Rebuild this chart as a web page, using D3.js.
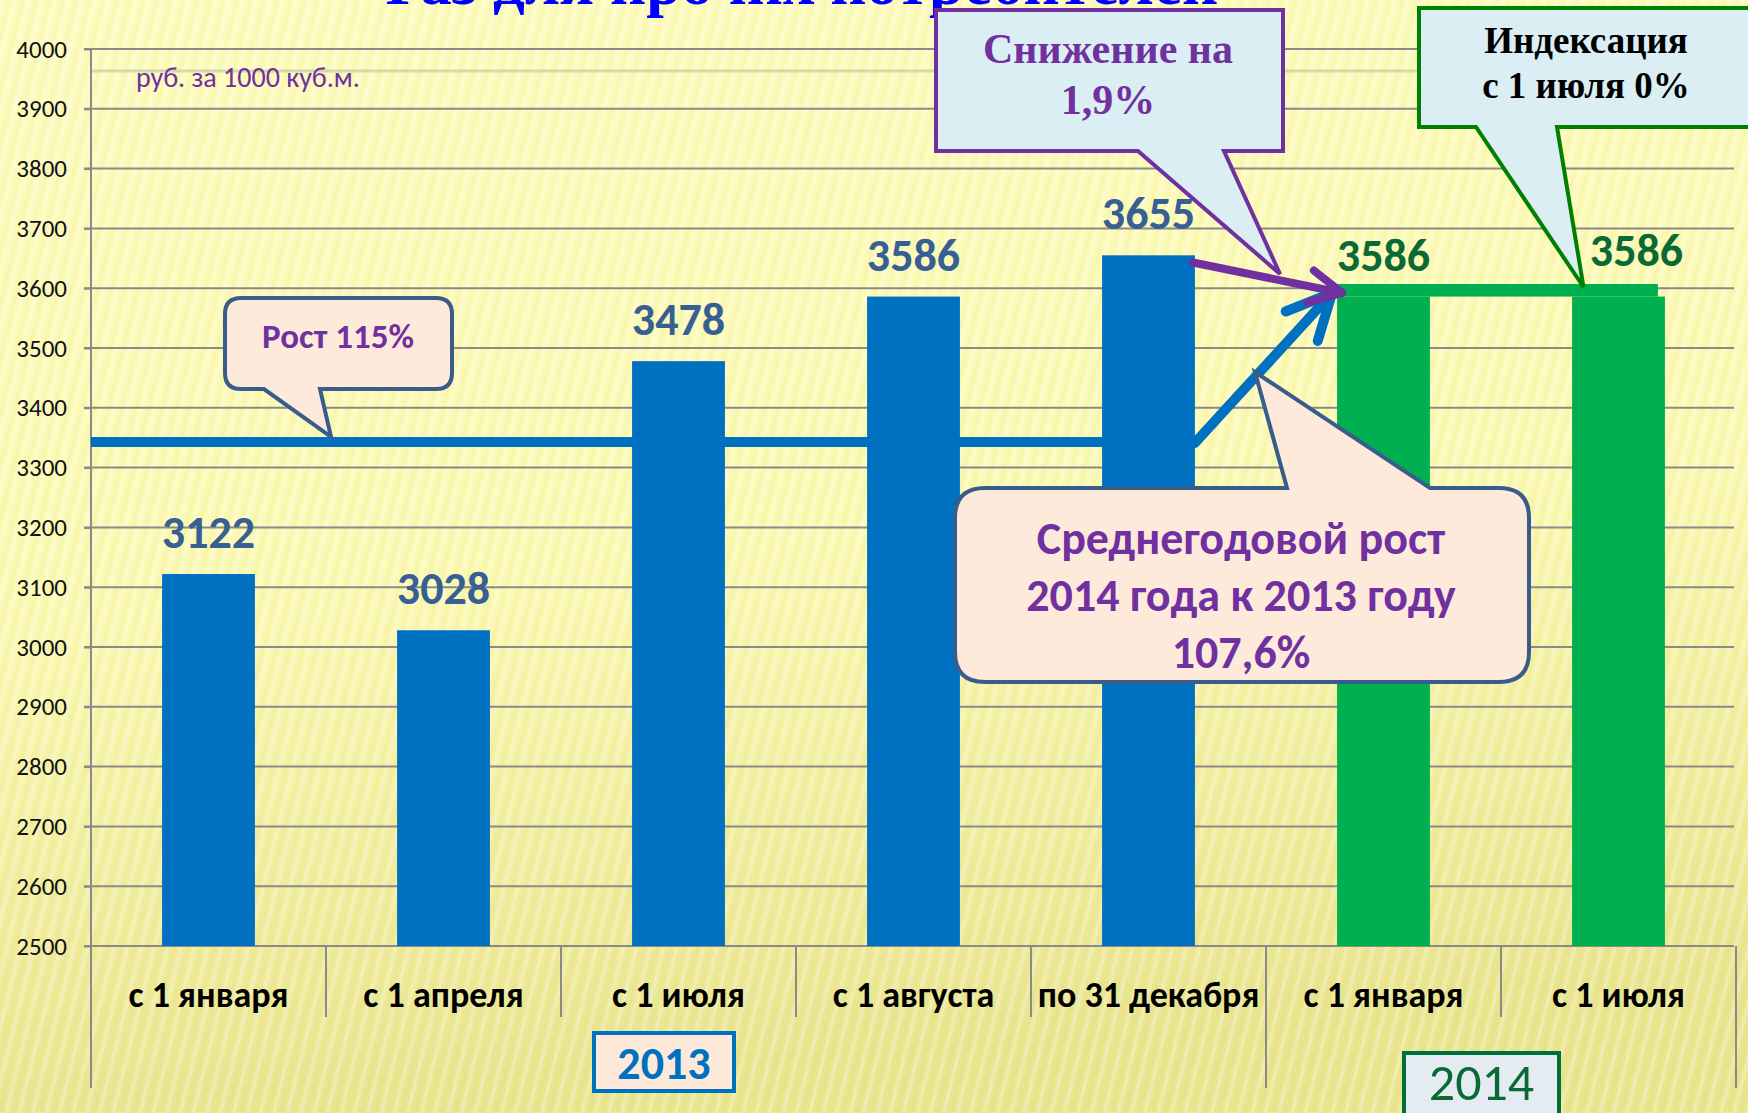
<!DOCTYPE html>
<html>
<head>
<meta charset="utf-8">
<script src="https://cdn.jsdelivr.net/npm/d3@7"></script>
<style>
  html, body { margin: 0; padding: 0; overflow: hidden; }
  body { width: 1748px; height: 1113px; }
  .sans { font-family: Carlito, Lato, "Open Sans", sans-serif; }
  .serif { font-family: "Liberation Serif", "DejaVu Serif", serif; }
</style>
</head>
<body>
<script>
// data
var categories = ["с 1 января", "с 1 апреля", "с 1 июля", "с 1 августа", "по 31 декабря", "с 1 января", "с 1 июля"];
var years = ["2013", "2013", "2013", "2013", "2013", "2014", "2014"];
var prices = [3122, 3028, 3478, 3586, 3655, 3586, 3586];
var yTicks = d3.range(2500, 4001, 100);
var avgLevel = 3343;      // "Рост 115%" level line
var unitLabel = "руб. за 1000 куб.м.";

var W = 1748, H = 1113;
var m = {left: 91, right: 12, top: 49, bottom: 167};

var svg = d3.select("body").append("svg")
    .attr("width", W)
    .attr("height", H);

var defs = svg.append("defs");

// background: pale yellow with streaks
var grad = defs.append("linearGradient").attr("id", "bg")
    .attr("x1", 0).attr("y1", 0).attr("x2", 0.15).attr("y2", 1);
grad.append("stop").attr("offset", "0%").attr("stop-color", "#fdfbbc");
grad.append("stop").attr("offset", "55%").attr("stop-color", "#fbf8b2");
grad.append("stop").attr("offset", "100%").attr("stop-color", "#e9e48e");

var pat = defs.append("pattern").attr("id", "streaks")
    .attr("patternUnits", "userSpaceOnUse")
    .attr("width", 13).attr("height", 40)
    .attr("patternTransform", "rotate(14)");
pat.append("rect").attr("x", 0).attr("y", 0).attr("width", 4).attr("height", 40)
    .attr("fill", "#ffffff").attr("opacity", 0.25);
pat.append("rect").attr("x", 8).attr("y", 0).attr("width", 2).attr("height", 40)
    .attr("fill", "#d8d27a").attr("opacity", 0.15);

svg.append("rect").attr("width", W).attr("height", H).attr("fill", "url(#bg)");
svg.append("rect").attr("width", W).attr("height", H).attr("fill", "url(#streaks)");

// scales
var y = d3.scaleLinear()
    .domain([2500, 4000])
    .range([946, m.top]);

var x = d3.scaleBand()
    .domain(d3.range(categories.length))
    .range([m.left, W - m.right])
    .padding(0);

var barW = x.bandwidth() * 0.395;
var cx = i => x(i) + x.bandwidth() / 2;

// title (cut off at top of slide)
svg.append("text")
    .attr("class", "serif")
    .attr("x", 802)
    .attr("y", 4)
    .attr("text-anchor", "middle")
    .style("font-size", "63px")
    .style("font-weight", "bold")
    .style("fill", "#0000ff")
    .text("Газ для прочих потребителей");

// faint slide line
svg.append("line")
    .attr("x1", m.left).attr("x2", W)
    .attr("y1", 71).attr("y2", 71)
    .attr("stroke", "#b9c79a").attr("stroke-width", 3).attr("opacity", 0.6);

// gridlines
svg.append("g")
    .selectAll("line")
    .data(yTicks)
    .join("line")
    .attr("x1", m.left - 7)
    .attr("x2", W - m.right - 2)
    .attr("y1", d => y(d))
    .attr("y2", d => y(d))
    .attr("stroke", "#8a8a8a")
    .attr("stroke-width", 2);

// y axis
var yAxis = svg.append("g")
    .attr("transform", "translate(" + m.left + ",0)")
    .call(d3.axisLeft(y).tickValues(yTicks).tickFormat(d3.format("d")).tickSize(7).tickPadding(17));
yAxis.select(".domain").remove();
yAxis.selectAll("line").attr("stroke", "#8a8a8a").attr("stroke-width", 2);
yAxis.selectAll("text")
    .attr("class", "sans")
    .style("font-size", "25px")
    .style("fill", "#111");

svg.append("line")
    .attr("x1", m.left).attr("x2", m.left)
    .attr("y1", m.top).attr("y2", 1088)
    .attr("stroke", "#8a8a8a").attr("stroke-width", 2);

// category separators below the axis
var bounds = d3.range(1, categories.length + 1);
svg.append("g")
    .selectAll("line")
    .data(bounds)
    .join("line")
    .attr("x1", i => i < categories.length ? x(i) : W - m.right)
    .attr("x2", i => i < categories.length ? x(i) : W - m.right)
    .attr("y1", y(2500))
    .attr("y2", i => (i == categories.length || years[i] != years[i - 1]) ? 1088 : 1017)
    .attr("stroke", "#8a8a8a")
    .attr("stroke-width", 2);

// unit label
svg.append("text")
    .attr("class", "sans")
    .attr("x", 136)
    .attr("y", 87)
    .style("font-size", "28px")
    .style("fill", "#7030a0")
    .text(unitLabel);

// average level line (behind bars)
var lastBlue = 4, firstGreen = 5;
var lineEndX = cx(lastBlue) + barW / 2;
var tipB = [cx(firstGreen) - barW / 2 - 5, y(3592)];

svg.append("line")
    .attr("x1", m.left).attr("x2", lineEndX)
    .attr("y1", y(avgLevel)).attr("y2", y(avgLevel))
    .attr("stroke", "#0070c0").attr("stroke-width", 10);

// bars
svg.append("g")
    .selectAll("rect")
    .data(prices)
    .join("rect")
    .attr("x", (d, i) => cx(i) - barW / 2)
    .attr("y", d => y(d))
    .attr("width", barW)
    .attr("height", d => y(2500) - y(d))
    .style("fill", (d, i) => years[i] == "2013" ? "#0070c0" : "#00b050");

// green band joining 2014 bars
svg.append("rect")
    .attr("x", cx(firstGreen) - barW / 2)
    .attr("y", y(3607))
    .attr("width", cx(6) + barW / 2 - 7 - (cx(firstGreen) - barW / 2))
    .attr("height", y(3586) - y(3607))
    .style("fill", "#00b050");

// arrows
function arrow(p0, p1, color, width, len, ang) {
    var a = Math.atan2(p0[1] - p1[1], p0[0] - p1[0]);
    var w1 = [p1[0] + len * Math.cos(a + ang), p1[1] + len * Math.sin(a + ang)];
    var w2 = [p1[0] + len * Math.cos(a - ang), p1[1] + len * Math.sin(a - ang)];
    var g = svg.append("g")
        .attr("stroke", color).attr("stroke-width", width)
        .attr("fill", "none").attr("stroke-linecap", "round").attr("stroke-linejoin", "round");
    g.append("path").attr("d", d3.line()([p0, p1]));
    g.append("path").attr("d", d3.line()([w1, p1, w2]));
}

// blue growth arrow from level line to 2014 price
arrow([lineEndX, y(avgLevel) + 1], tipB, "#0070c0", 10, 50, 0.45);
// purple decrease arrow
arrow([lineEndX - 2, y(3643)], [cx(firstGreen) - barW / 2 + 5, y(3592)], "#7030a0", 8, 36, 0.47);

// value labels
svg.append("g")
    .selectAll("text")
    .data(prices)
    .join("text")
    .attr("class", "sans")
    .attr("x", (d, i) => cx(i) + (i == 6 ? 18 : 0))
    .attr("y", (d, i) => y(d) - 26 - (i == 6 ? 5 : 0))
    .attr("text-anchor", "middle")
    .style("font-size", "46px")
    .style("font-weight", "bold")
    .style("fill", (d, i) => years[i] == "2013" ? "#376092" : "#0a6a35")
    .text(d => d);

// category labels
svg.append("g")
    .selectAll("text")
    .data(categories)
    .join("text")
    .attr("class", "sans")
    .attr("x", (d, i) => cx(i))
    .attr("y", 1007)
    .attr("text-anchor", "middle")
    .style("font-size", "36px")
    .style("font-weight", "bold")
    .style("fill", "#000")
    .text(d => d);

// year boxes
function yearBox(label, x0, y0, w, h, stroke, fill, color, weight, size, base) {
    svg.append("rect")
        .attr("x", x0).attr("y", y0).attr("width", w).attr("height", h)
        .attr("fill", fill).attr("stroke", stroke).attr("stroke-width", 4);
    svg.append("text")
        .attr("class", "sans")
        .attr("x", x0 + w / 2).attr("y", base)
        .attr("text-anchor", "middle")
        .style("font-size", size)
        .style("font-weight", weight)
        .style("fill", color)
        .text(label);
}
yearBox("2013", 594, 1033, 140, 58, "#0070c0", "#fde9d9", "#0070c0", "bold", "46px", 1079);
yearBox("2014", 1404, 1053, 155, 70, "#00703a", "#e4ecf2", "#0a6a35", "normal", "52px", 1100);

// callouts
function roundBox(x0, y0, x1, y1, r, side, b1, b2, tip) {
    var p = d3.path();
    p.moveTo(x0 + r, y0);
    if (side == "top") { p.lineTo(b1, y0); p.lineTo(tip[0], tip[1]); p.lineTo(b2, y0); }
    p.lineTo(x1 - r, y0);
    p.quadraticCurveTo(x1, y0, x1, y0 + r);
    p.lineTo(x1, y1 - r);
    p.quadraticCurveTo(x1, y1, x1 - r, y1);
    if (side == "bottom") { p.lineTo(b2, y1); p.lineTo(tip[0], tip[1]); p.lineTo(b1, y1); }
    p.lineTo(x0 + r, y1);
    p.quadraticCurveTo(x0, y1, x0, y1 - r);
    p.lineTo(x0, y0 + r);
    p.quadraticCurveTo(x0, y0, x0 + r, y0);
    p.closePath();
    return p.toString();
}

function callout(d, fill, stroke, sw) {
    svg.append("path").attr("d", d)
        .attr("fill", fill).attr("stroke", stroke).attr("stroke-width", sw)
        .attr("stroke-linejoin", "miter");
}

function lines(txt, xx, y0, step, size, color, cls) {
    var t = svg.append("text")
        .attr("class", cls)
        .attr("text-anchor", "middle")
        .style("font-size", size)
        .style("font-weight", "bold")
        .style("fill", color);
    txt.forEach((s, i) => {
        t.append("tspan").attr("x", xx).attr("y", y0 + i * step).text(s);
    });
}

// "Рост 115%"
callout(roundBox(225, 298, 452, 389, 16, "bottom", 264, 320, [331, y(avgLevel) - 5]),
    "#fdeada", "#385d8a", 4);
lines(["Рост 115%"], 338, 348, 0, "35px", "#7030a0", "sans");

// "Снижение на 1,9%"
callout(roundBox(936, 10, 1283, 151, 0, "bottom", 1138, 1224, [1280, 274]),
    "#daeef3", "#7030a0", 4);
lines(["Снижение на", "1,9%"], 1108, 63, 51, "42px", "#7030a0", "serif");

// "Индексация с 1 июля 0%"
callout(roundBox(1419, 8, 1770, 127, 0, "bottom", 1476, 1557, [cx(6) - 35, y(3602)]),
    "#daeef3", "#008000", 4);
lines(["Индексация", "с 1 июля 0%"], 1586, 53, 45, "37px", "#000", "serif");

// "Среднегодовой рост ..."
callout(roundBox(955, 488, 1529, 682, 30, "top", 1287, 1430, [1255, 372]),
    "#fdeada", "#385d8a", 4);
lines(["Среднегодовой рост", "2014 года к 2013 году", "107,6%"], 1241, 554, 57, "46px", "#7030a0", "sans");
</script>
</body>
</html>
